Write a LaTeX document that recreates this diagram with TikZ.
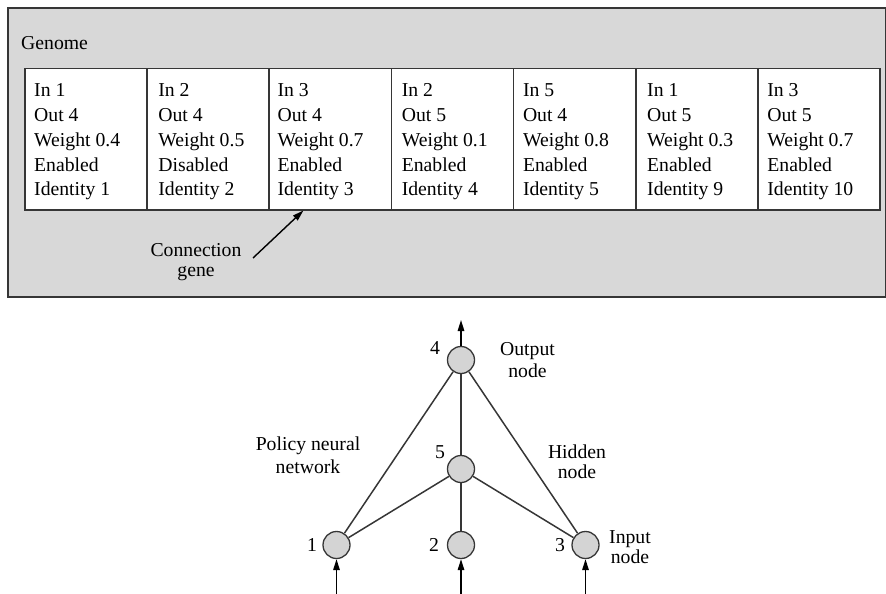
\documentclass[tikz,border=0pt]{standalone}
\usepackage{fontspec}
\setmainfont{Liberation Serif}
\usetikzlibrary{arrows.meta}
\definecolor{boxgray}{HTML}{D8D8D8}
\definecolor{nodegray}{HTML}{D4D4D4}
\definecolor{edgedark}{HTML}{363636}
\begin{document}
\begin{tikzpicture}[x=1pt,y=-1pt,
  txt/.style={font=\fontsize{19.7}{24.8}\selectfont, inner sep=0pt, text=black},
  cell/.style={draw=edgedark, line width=1.5pt, fill=white, minimum width=122.2pt, minimum height=141pt, anchor=north west, inner sep=0pt},
  celltext/.style={txt, align=left, anchor=north west},
  neuron/.style={circle, draw=edgedark, line width=1.3pt, fill=nodegray, minimum size=27pt, inner sep=0pt},
  link/.style={draw=edgedark, line width=1.5pt},
  tip/.style={-{Triangle[length=11pt,width=6.5pt]}, draw=black, line width=1.4pt},
]
\useasboundingbox (0,0) rectangle (886,594);
% genome box
\node[draw=edgedark, line width=1.8pt, fill=boxgray, minimum width=878pt, minimum height=289pt, anchor=north west, inner sep=0pt] (genome) at (7,7) {};
\node[txt, anchor=base west] (genlabel) at (21,50) {Genome};
% cells
\foreach \i in {1,...,7} {
  \node[cell] (c\i) at ({24+(\i-1)*122.2},68) {};
}
\node[celltext] (t1) at ([xshift=10pt,yshift=-15.5pt]c1.north west) {In 1\\Out 4\\Weight 0.4\\Enabled\\Identity 1};
\node[celltext] (t2) at ([xshift=12pt,yshift=-15.5pt]c2.north west) {In 2\\Out 4\\Weight 0.5\\Disabled\\Identity 2};
\node[celltext] (t3) at ([xshift=9pt,yshift=-15.5pt]c3.north west) {In 3\\Out 4\\Weight 0.7\\Enabled\\Identity 3};
\node[celltext] (t4) at ([xshift=11pt,yshift=-15.5pt]c4.north west) {In 2\\Out 5\\Weight 0.1\\Enabled\\Identity 4};
\node[celltext] (t5) at ([xshift=10pt,yshift=-15.5pt]c5.north west) {In 5\\Out 4\\Weight 0.8\\Enabled\\Identity 5};
\node[celltext] (t6) at ([xshift=12pt,yshift=-15.5pt]c6.north west) {In 1\\Out 5\\Weight 0.3\\Enabled\\Identity 9};
\node[celltext] (t7) at ([xshift=10pt,yshift=-15.5pt]c7.north west) {In 3\\Out 5\\Weight 0.7\\Enabled\\Identity 10};
% connection gene label
\node[txt, font=\fontsize{19.7}{20}\selectfont, align=center, anchor=north] (cg) at (196,243) {Connection\\gene};
\coordinate (cgstart) at (253,258);
\draw[tip] (cgstart) -- ([xshift=35pt]c3.south west);
% network
\node[neuron] (n4) at (461,360) {};
\node[neuron] (n5) at (461,469) {};
\node[neuron] (n1) at (336.5,545) {};
\node[neuron] (n2) at (461,545) {};
\node[neuron] (n3) at (585.5,545) {};
\draw[link] (n1) -- (n4);
\draw[link] (n1) -- (n5);
\draw[link] (n2) -- (n5);
\draw[link] (n5) -- (n4);
\draw[link] (n3) -- (n5);
\draw[link] (n3) -- (n4);
\coordinate (outtip) at (461,320);
\draw[tip] (n4) -- (outtip);
\coordinate (in1) at (336.5,594);
\coordinate (in2) at (461,594);
\coordinate (in3) at (585.5,594);
\draw[tip] (in1) -- (n1);
\draw[tip] (in2) -- (n2);
\draw[tip] (in3) -- (n3);
% numbers
\node[txt] (l4) at (435,348) {4};
\node[txt] (l5) at (440,452) {5};
\node[txt] (l1) at (312,545) {1};
\node[txt] (l2) at (434,545) {2};
\node[txt] (l3) at (560,545) {3};
% labels
\node[txt, font=\fontsize{19.7}{22}\selectfont, align=center, anchor=north] (lout) at (527.5,342) {Output\\node};
\node[txt, font=\fontsize{19.7}{22.5}\selectfont, align=center, anchor=north] (lpol) at (308,437) {Policy neural\\network};
\node[txt, font=\fontsize{19.7}{20}\selectfont, align=center, anchor=north] (lhid) at (577,445) {Hidden\\node};
\node[txt, font=\fontsize{19.7}{20}\selectfont, align=center, anchor=north] (linp) at (630,530) {Input\\node};
\end{tikzpicture}
\end{document}
